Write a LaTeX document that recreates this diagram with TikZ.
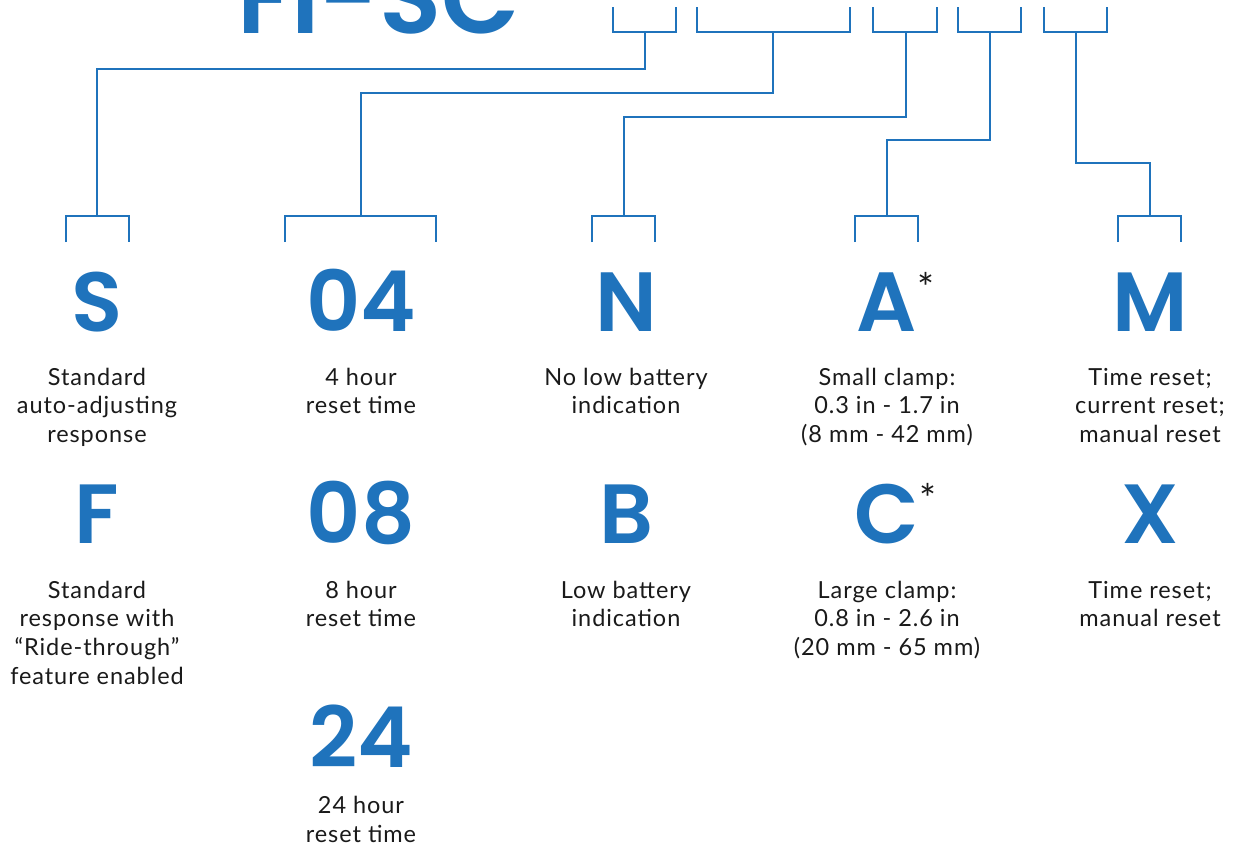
\documentclass[tikz,border=0pt]{standalone}
\usepackage{fontspec}
\setmainfont{Lato}
\newfontfamily\descf{Lato}[LetterSpace=4]
\newfontfamily\bigf{Poppins SemiBold}
\definecolor{fblue}{HTML}{1F73BC}
\definecolor{ftext}{HTML}{1A1A1A}
\tikzset{
  wire/.style={draw=fblue,line width=2.5pt,line cap=butt,line join=miter},
  code/.style={font=\bigf\fontsize{84}{84}\selectfont,text=fblue,anchor=base,inner sep=0pt},
  desc/.style={font=\descf\fontsize{23.5}{28.8}\selectfont,text=ftext,anchor=base,align=center,inner sep=0pt},
  star/.style={font=\descf\fontsize{40}{40}\selectfont,text=ftext,anchor=north west,inner sep=0pt},
}
\begin{document}
\begin{tikzpicture}[x=1pt,y=-1pt]
\useasboundingbox (0,0) rectangle (1233,847);
\clip (0,0) rectangle (1233,847);
\fill[white] (0,0) rectangle (1233,847);
% title
\node[font=\bigf\fontsize{102}{102}\selectfont,text=fblue,anchor=base west,inner sep=0pt] (title) at (237,33) {FI-SC};
% top brackets
\draw[wire] (613,7) -- (613,32) -- (676,32) -- (676,7);
\draw[wire] (697,7) -- (697,32) -- (850,32) -- (850,7);
\draw[wire] (873,7) -- (873,32) -- (937,32) -- (937,7);
\draw[wire] (958,7) -- (958,32) -- (1021,32) -- (1021,7);
\draw[wire] (1044,7) -- (1044,32) -- (1107,32) -- (1107,7);
\coordinate (t1) at (645,32);
\coordinate (t2) at (773,32);
\coordinate (t3) at (906,32);
\coordinate (t4) at (990,32);
\coordinate (t5) at (1076,32);
% bottom brackets
\draw[wire] (66,242) -- (66,216) -- (129,216) -- (129,242);
\draw[wire] (285,242) -- (285,216) -- (436,216) -- (436,242);
\draw[wire] (592,242) -- (592,216) -- (655,216) -- (655,242);
\draw[wire] (855,242) -- (855,216) -- (918,216) -- (918,242);
\draw[wire] (1118,242) -- (1118,216) -- (1181,216) -- (1181,242);
\coordinate (b1) at (97,216);
\coordinate (b2) at (361,216);
\coordinate (b3) at (624,216);
\coordinate (b4) at (887,216);
\coordinate (b5) at (1150,216);
% knee points
\coordinate (k1) at (645,69);
\coordinate (k2) at (773,93);
\coordinate (k3) at (906,117);
\coordinate (k4) at (990,140);
\coordinate (k5) at (1076,163);
% connectors
\draw[wire] (t1) -- (k1) -| (b1);
\draw[wire] (t2) -- (k2) -| (b2);
\draw[wire] (t3) -- (k3) -| (b3);
\draw[wire] (t4) -- (k4) -| (b4);
\draw[wire] (t5) -- (k5) -| (b5);
% row 1 (desc nodes anchored at the baseline of their last line)
\node[code] (cS) at (97,331) {S};
\node[code] (c04) at (361,331) {04};
\node[code] (cN) at (626,331) {N};
\node[code] (cA) at (887,331) {A};
\node[code] (cM) at (1150,331) {M};
\node[star] (sA) at (cA.north east) {*};
\node[desc] (dS) at (97,442.6) {Standard\\auto-adjusting\\response};
\node[desc] (d04) at (361,413.8) {4 hour\\reset time};
\node[desc] (dN) at (626,413.8) {No low battery\\indication};
\node[desc] (dA) at (887,442.6) {Small clamp:\\0.3 in - 1.7 in\\(8 mm - 42 mm)};
\node[desc] (dM) at (1150,442.6) {Time reset;\\current reset;\\manual reset};
% row 2
\node[code] (cF) at (97,543) {F};
\node[code] (c08) at (361,543) {08};
\node[code] (cB) at (626,543) {B};
\node[code] (cC) at (887,543) {C};
\node[code] (cX) at (1150,543) {X};
\node[star] (sC) at (cC.north east) {*};
\node[desc] (dF) at (97,684.4) {Standard\\response with\\“Ride-through”\\feature enabled};
\node[desc] (d08) at (361,626.8) {8 hour\\reset time};
\node[desc] (dB) at (626,626.8) {Low battery\\indication};
\node[desc] (dC) at (887,655.6) {Large clamp:\\0.8 in - 2.6 in\\(20 mm - 65 mm)};
\node[desc] (dX) at (1150,626.8) {Time reset;\\manual reset};
% row 3
\node[code] (c24) at (361,767) {24};
\node[desc] (d24) at (361,842) {24 hour\\reset time};
\end{tikzpicture}
\end{document}
